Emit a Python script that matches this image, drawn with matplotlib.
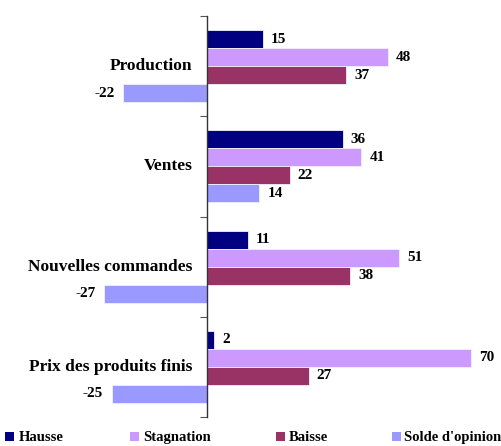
import matplotlib
matplotlib.use("Agg")
import matplotlib.pyplot as plt
from matplotlib.patches import Rectangle
import numpy as np

categories = ["Production", "Ventes", "Nouvelles commandes", "Prix des produits finis"]
series_names = ["Hausse", "Stagnation", "Baisse", "Solde d'opinion"]
hausse = [15, 36, 11, 2]
stagnation = [48, 41, 51, 70]
baisse = [37, 22, 38, 27]
solde = [-22, 14, -27, -25]
colors = ["#000080", "#CC99FF", "#993366", "#9999FF"]

plt.rcParams['font.family'] = ['Liberation Serif', 'DejaVu Serif']
plt.rcParams['font.weight'] = 'bold'

W, H = 502, 446
fig = plt.figure(figsize=(W/100, H/100), dpi=100)
ax = fig.add_axes([0, 1 - 417/H, 1, (417 - 16)/H])

px_per_unit = 3.78
x0 = 206.5
ax.set_xlim(-x0/px_per_unit, (W - x0)/px_per_unit)
ax.set_ylim(len(categories), 0)

all_series = [hausse, stagnation, baisse, solde]
h = 0.18
for k, (vals, col, name) in enumerate(zip(all_series, colors, series_names)):
    y = np.arange(len(categories)) + 0.5 + (k - 1.5) * h
    ax.barh(y, vals, height=h, color=col, edgecolor="#f0f0ff", linewidth=0.6, label=name)
    for yi, v in zip(y, vals):
        if v >= 0:
            ax.text(v + 8/px_per_unit, yi, str(v), ha="left", va="center", fontsize=11, fontweight="bold")
        else:
            ax.text(v - 9/px_per_unit, yi, str(v), ha="right", va="center", fontsize=11, fontweight="bold")

for i, c in enumerate(categories):
    ax.text(-14/px_per_unit, i + 0.5, c, ha="right", va="center", fontsize=12.5, fontweight="bold")

for s in ["top", "right", "bottom"]:
    ax.spines[s].set_visible(False)
ax.spines["left"].set_position(("data", 0))
ax.spines["left"].set_color("#333333")
ax.spines["left"].set_linewidth(1.0)
ax.set_yticks(np.arange(len(categories) + 1))
ax.set_yticklabels([])
ax.tick_params(axis="y", direction="out", length=5, color="#555555")
ax.set_xticks([])
ax.patch.set_alpha(0)

# legend, drawn manually to match the reference spacing
marker_x = [5, 130, 276, 392]
text_x = [19, 143, 289, 404]
base_y = 441
for mx, tx, col, name in zip(marker_x, text_x, colors, series_names):
    fig.patches.append(Rectangle((mx / W, 1 - base_y / H), 9 / W, 9 / H,
                                 transform=fig.transFigure, facecolor=col, edgecolor="none"))
    fig.text(tx / W, 1 - base_y / H, name, ha="left", va="baseline", fontsize=10.5, fontweight="bold")

fig.savefig("out.png", dpi=100)
